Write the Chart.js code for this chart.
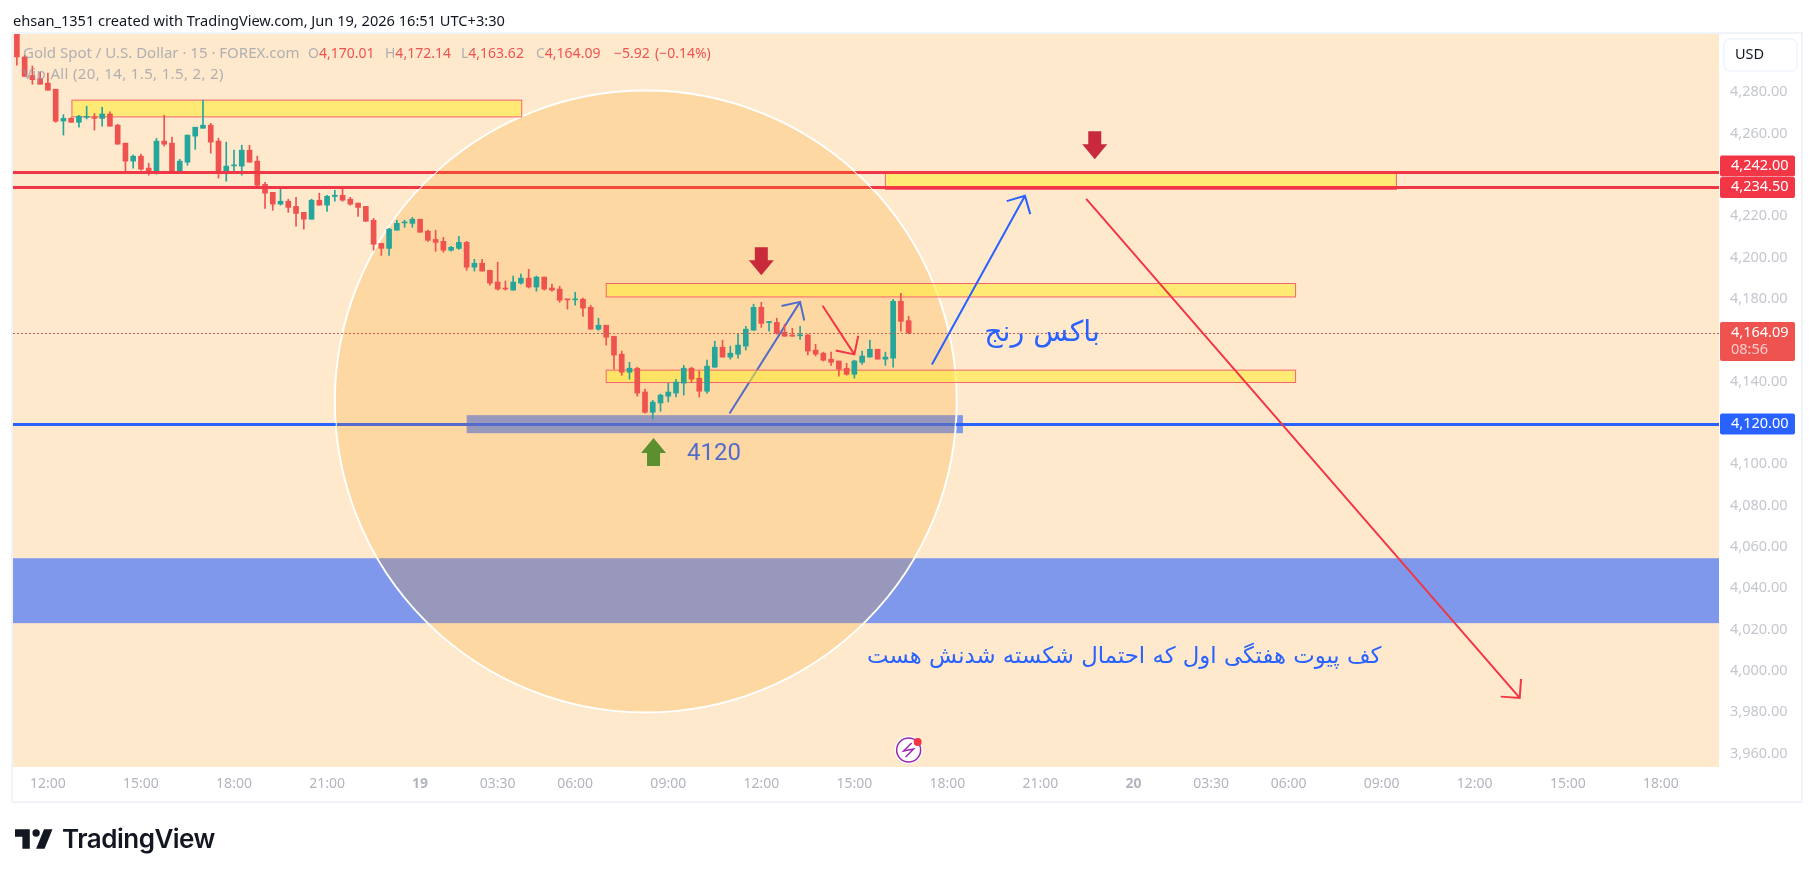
<!DOCTYPE html>
<html>
<head>
<meta charset="utf-8">
<title>XAUUSD 15m</title>
<script src="https://cdn.jsdelivr.net/npm/chart.js@4/dist/chart.umd.min.js"></script>
<style>
    html, body { margin: 0; padding: 0; background: #fff; overflow: hidden; }
    #chart { position: absolute; left: 0; top: 0; }
    #header { position: absolute; left: 13px; top: 10px; font: 14.6px "Noto Sans", sans-serif; color: #131722; white-space: nowrap; }
    #brand { position: absolute; left: 15px; top: 823px; display: flex; align-items: center; color: #131722; font: 600 26px Inter, sans-serif; letter-spacing: -0.5px; }
    #brand svg { margin-right: 9px; }
</style>
</head>
<body>
<canvas id="chart" width="1814" height="877"></canvas>
<div id="header">ehsan_1351 created with TradingView.com, Jun 19, 2026 16:51 UTC+3:30</div>
<div id="brand">
    <svg width="38" height="20" viewBox="0 0 36 18.5"><path fill="#131722" d="M14 18.5H7V7H0V0h14v18.5zM28 18.5h-8L27.5 0h8L28 18.5z"/><circle fill="#131722" cx="20" cy="3.5" r="3.5"/></svg>
    <span>TradingView</span>
</div>
<script>
// candles, one entry per 15 minute bar
const opens = [4311,4297.6,4288.6,4287.1,4284.9,4282,4266.6,4267.9,4266,4268.4,4268.6,4267.9,4270,4264.6,4255.9,4247.2,4249.6,4243.8,4241.9,4256.9,4255.9,4242.3,4246.7,4259.3,4263.1,4264.6,4256.9,4241.4,4244.9,4244.8,4252.5,4247.2,4236,4232.1,4226.4,4227.8,4225.3,4222.4,4219.1,4228.3,4225.9,4230.1,4230.7,4228.8,4226.9,4225.3,4218.6,4207.4,4205,4213.8,4217.3,4217.1,4219.1,4213.3,4209.3,4208.4,4204.1,4205,4207.9,4195.9,4197.8,4194.4,4188.7,4185.8,4184.8,4188.2,4190.6,4186.3,4191.1,4185.8,4185.3,4180.4,4180.1,4180.4,4176.5,4165.9,4167.8,4162.5,4153.8,4145.1,4147,4135.5,4125.7,4130.2,4133.5,4135,4139.8,4147,4142.2,4135.9,4147.5,4157.2,4152.4,4153.8,4157.7,4165.4,4176.5,4169.1,4169.2,4164.4,4163,4162.7,4163,4155.8,4154.3,4151.4,4150.5,4147,4144.1,4149.9,4152.4,4156.2,4151.4,4151.9,4179.4,4170.01];
const highs = [4315,4298.4,4293.2,4290.3,4289.8,4282,4269.7,4268.3,4269.4,4273.8,4270.3,4273.3,4271.1,4265.1,4255.9,4250.2,4250.6,4246.2,4258.2,4269.4,4258.8,4248.1,4259.8,4263.6,4276.7,4265.5,4258.3,4256.4,4252.5,4254.9,4254.9,4249.6,4237,4232.1,4233.6,4228.8,4229.7,4222.4,4228.8,4231.7,4230.7,4233.1,4233.6,4229.7,4226.9,4225.3,4219.5,4207.4,4214.7,4218.6,4218.6,4220,4219.1,4213.8,4213.8,4210.3,4206,4210.8,4208.4,4199.7,4199.7,4194.4,4198.3,4189.2,4191.6,4192.5,4194.9,4191.6,4191.1,4187.7,4186.7,4180.4,4183.8,4180.9,4177.5,4171.2,4167.8,4162.5,4155.3,4149.9,4147.5,4136.9,4131.5,4134.5,4139.8,4141.7,4148.4,4147.5,4145.6,4150.9,4160.1,4160.6,4157.7,4163.5,4167.3,4178,4178.9,4169.7,4171.2,4168.3,4166.3,4167.3,4163.5,4158.6,4154.8,4154.8,4150.5,4149.4,4150.9,4155.3,4160.6,4156.2,4154.8,4180.4,4183.3,4172.14];
const lows = [4293.6,4288.2,4284.4,4284.4,4281.5,4266,4259.8,4266,4263.6,4267.6,4262.2,4264.1,4264.1,4255.4,4241.1,4243.8,4242.8,4240.4,4240.9,4254.5,4241.9,4241.4,4245.2,4252.9,4263.1,4251.1,4239,4237.5,4241.4,4240.4,4246.7,4235,4224.3,4223.4,4225.9,4222.4,4215.7,4214.3,4219.1,4225.9,4222.9,4227.8,4227.8,4225.9,4220.5,4218.1,4204.1,4201.6,4201.6,4213.8,4215.2,4215.2,4212.8,4208.4,4203.6,4203.1,4203.6,4204.5,4194.4,4194,4194,4187.2,4184.8,4184.8,4184.8,4187.7,4185.8,4184.3,4184.8,4184.3,4178.9,4175.6,4177.5,4172.1,4165.9,4165.4,4158.2,4146.5,4143.6,4141.7,4133.5,4125.3,4122.4,4126.2,4130.7,4133.1,4134,4140.3,4133.1,4135,4147.5,4152.4,4151.4,4151.9,4155.8,4165.4,4166.8,4164.9,4163.5,4162.5,4162.5,4161,4153.4,4152.9,4150.5,4148.4,4143.2,4143.6,4142.2,4148.9,4152.4,4151.4,4148.4,4147.5,4164.9,4163.62];
const closes = [4297.6,4288.2,4286.6,4284.4,4281.5,4266.5,4267.9,4266,4268.9,4268.7,4267.9,4270,4264.1,4255.4,4247.2,4249.6,4243.3,4241.9,4256.9,4255.4,4241.9,4247.2,4259.8,4263.6,4264.6,4256.4,4241.9,4244.8,4245.2,4252.5,4246.7,4235.5,4231.7,4226.4,4227.8,4224.8,4221.9,4219.1,4228.3,4225.9,4230.2,4230.7,4228.3,4226.4,4224.8,4218.1,4207,4205,4214.3,4217.1,4217.8,4219.1,4212.8,4208.9,4207.9,4204.1,4205.5,4207.9,4195.9,4197.8,4194,4188.2,4185.3,4185.3,4188.7,4190.6,4186.3,4191.1,4185.3,4184.8,4179.9,4180.1,4180.4,4176.1,4165.9,4167.8,4162,4153.4,4145.1,4147,4135,4125.7,4130.6,4134,4135.5,4140.3,4147,4141.7,4135.9,4148,4157.2,4152.4,4154.3,4158.2,4165.9,4176.5,4168.7,4169.5,4163.9,4162.5,4162.5,4163.1,4155.3,4153.8,4150.9,4149.9,4146.5,4144.1,4150.5,4152.9,4156.2,4151.4,4152.4,4179.4,4169.7,4164.09];

// axes
const barSlots = 220; // candles plus the empty space on the right
const priceMin = 3954.1;
const priceMax = 4308.7;
const priceTicks = [3960,3980,4000,4020,4040,4060,4080,4100,4120,4140,4160,4180,4200,4220,4240,4260,4280];
const timeTickBars = [4,16,28,40,52,62,72,84,96,108,120,132,144,154,164,176,188,200,212];
const timeTickLabels = ['12:00','15:00','18:00','21:00','19','03:30','06:00','09:00','12:00','15:00','18:00','21:00','20','03:30','06:00','09:00','12:00','15:00','18:00'];

// user drawings, as [bar, price]
const resistanceLevels = [4242, 4234.5];
const supportLevel = 4120;
const lastPrice = 4164.09;
const pivotBand = [4055.1, 4023.7];
const supportBox = [58, 122, 4124.3, 4115.6];
const yellowBoxes = [
    [7.1, 65.1, 4276.7, 4268.6],
    [112, 177.9, 4241.8, 4233.5],
    [76, 164.9, 4188, 4181.5],
    [76, 164.9, 4146.1, 4140.1],
];
const circleCentre = [81.1, 4130.9];
const circleEdgeBar = 121.2;
const arrowUnderCircle = [[91.9, 4125.1], [101, 4179.1]];
const blueArrow = [[118, 4148.8], [130, 4230.4]];
const redArrows = [
    [[103.9, 4177.2], [108, 4153.7]],
    [[137.9, 4228.9], [193.8, 3987.5]],
];
const downMarkers = [[96, 4192], [139, 4248.1]];
const upMarker = [82.1, 4113.3];
const supportText = ['4120', 89.9, 4105.6];
const rangeText = ['باکس رنج', 132.2, 4164];
const pivotText = ['کف پیوت هفتگی اول که احتمال شکسته شدنش هست', 142.8, 4007.4];
const lastBar = 115;

const UP = '#26a69a';
const DOWN = '#ef5350';
const RED = '#f23645';
const BLUE = '#2962ff';
const UI_FONT = '"Noto Sans", sans-serif';

function xy(chart, bar, price) {
    return [chart.scales.x.getPixelForValue(bar), chart.scales.y.getPixelForValue(price)];
}

function drawArrow(chart, from, to, color) {
    const ctx = chart.ctx;
    const [x1, y1] = xy(chart, from[0], from[1]);
    const [x2, y2] = xy(chart, to[0], to[1]);
    const angle = Math.atan2(y2 - y1, x2 - x1);
    const head = 19;
    ctx.strokeStyle = color;
    ctx.lineWidth = 2;
    ctx.beginPath();
    ctx.moveTo(x1, y1);
    ctx.lineTo(x2, y2);
    ctx.moveTo(x2 - head * Math.cos(angle - Math.PI / 4), y2 - head * Math.sin(angle - Math.PI / 4));
    ctx.lineTo(x2, y2);
    ctx.lineTo(x2 - head * Math.cos(angle + Math.PI / 4), y2 - head * Math.sin(angle + Math.PI / 4));
    ctx.stroke();
}

// block arrow, dir 1 points down and -1 points up, tip sits on the anchor
function drawMarker(chart, anchor, dir, color) {
    const ctx = chart.ctx;
    const [x, y] = xy(chart, anchor[0], anchor[1]);
    ctx.fillStyle = color;
    ctx.beginPath();
    ctx.moveTo(x, y);
    ctx.lineTo(x + 12.5, y - dir * 15);
    ctx.lineTo(x + 6.5, y - dir * 15);
    ctx.lineTo(x + 6.5, y - dir * 28);
    ctx.lineTo(x - 6.5, y - dir * 28);
    ctx.lineTo(x - 6.5, y - dir * 15);
    ctx.lineTo(x - 12.5, y - dir * 15);
    ctx.closePath();
    ctx.fill();
}

function drawLevels(chart) {
    const ctx = chart.ctx;
    const area = chart.chartArea;
    ctx.lineWidth = 3;
    resistanceLevels.concat(supportLevel).forEach(level => {
        const y = Math.round(chart.scales.y.getPixelForValue(level)) + 0.5;
        ctx.strokeStyle = level === supportLevel ? BLUE : RED;
        ctx.beginPath();
        ctx.moveTo(area.left, y);
        ctx.lineTo(area.right, y);
        ctx.stroke();
    });
}

function circlePath(chart, ctx) {
    const [cx, cy] = xy(chart, circleCentre[0], circleCentre[1]);
    const r = chart.scales.x.getPixelForValue(circleEdgeBar) - cx;
    ctx.arc(cx, cy, r, 0, Math.PI * 2);
}

function drawTextAt(chart, item, font, color, rtl) {
    const ctx = chart.ctx;
    const [x, y] = xy(chart, item[1], item[2]);
    ctx.font = font;
    ctx.fillStyle = color;
    ctx.textAlign = 'center';
    ctx.textBaseline = 'middle';
    ctx.direction = rtl ? 'rtl' : 'ltr';
    ctx.fillText(item[0], x, y);
    ctx.direction = 'ltr';
}

function drawBadge(ctx, y, h, color) {
    ctx.fillStyle = color;
    ctx.beginPath();
    ctx.roundRect(1720, y, 75, h, 2);
    ctx.fill();
}

const pagePlugin = {
    id: 'tvPage',
    beforeDraw(chart) {
        const ctx = chart.ctx;
        const area = chart.chartArea;
        ctx.save();
        ctx.strokeStyle = '#f0f3fa';
        ctx.lineWidth = 2;
        ctx.strokeRect(12, 33, 1790, 769);
        ctx.fillStyle = '#fee9cc';
        ctx.fillRect(area.left, area.top, area.width, area.height);
        ctx.restore();
    },
    beforeDatasetsDraw(chart) {
        const ctx = chart.ctx;
        const area = chart.chartArea;
        ctx.save();
        ctx.beginPath();
        ctx.rect(area.left, area.top, area.width, area.height);
        ctx.clip();

        // weekly pivot band and the box on 4120
        const [bandTop, bandBottom] = pivotBand.map(p => chart.scales.y.getPixelForValue(p));
        ctx.fillStyle = 'rgba(41,98,255,0.6)';
        ctx.fillRect(area.left, bandTop, area.width, bandBottom - bandTop);
        const [bx1, by1] = xy(chart, supportBox[0], supportBox[2]);
        const [bx2, by2] = xy(chart, supportBox[1], supportBox[3]);
        ctx.fillRect(bx1, by1, bx2 - bx1, by2 - by1);

        drawLevels(chart);
        drawArrow(chart, arrowUnderCircle[0], arrowUnderCircle[1], BLUE);
        drawTextAt(chart, supportText, '24px Roboto, sans-serif', BLUE, false);

        ctx.beginPath();
        circlePath(chart, ctx);
        ctx.fillStyle = 'rgba(255,152,0,0.2)';
        ctx.fill();
        ctx.strokeStyle = '#ffffff';
        ctx.lineWidth = 2;
        ctx.stroke();

        yellowBoxes.forEach(box => {
            const [x1, y1] = xy(chart, box[0], box[2]);
            const [x2, y2] = xy(chart, box[1], box[3]);
            ctx.fillStyle = 'rgba(255,235,59,0.6)';
            ctx.fillRect(x1, y1, x2 - x1, y2 - y1);
            ctx.strokeStyle = '#f7646e';
            ctx.lineWidth = 1;
            ctx.strokeRect(x1, y1, x2 - x1, y2 - y1);
        });
        ctx.restore();
    },
    afterDatasetsDraw(chart) {
        const ctx = chart.ctx;
        const area = chart.chartArea;
        ctx.save();
        ctx.beginPath();
        ctx.rect(area.left, area.top, area.width, area.height);
        ctx.clip();

        // levels go over the candles, only outside the circle
        ctx.save();
        ctx.beginPath();
        ctx.rect(area.left, area.top, area.width, area.height);
        circlePath(chart, ctx);
        ctx.clip('evenodd');
        drawLevels(chart);
        ctx.restore();

        // last price line
        const lastY = Math.round(chart.scales.y.getPixelForValue(lastPrice)) + 0.5;
        ctx.strokeStyle = '#c0605c';
        ctx.lineWidth = 1;
        ctx.setLineDash([2, 2]);
        ctx.beginPath();
        ctx.moveTo(Math.round(area.left), lastY);
        ctx.lineTo(area.right, lastY);
        ctx.stroke();
        ctx.setLineDash([]);

        drawArrow(chart, blueArrow[0], blueArrow[1], BLUE);
        redArrows.forEach(a => drawArrow(chart, a[0], a[1], RED));
        downMarkers.forEach(m => drawMarker(chart, m, 1, '#c82a3c'));
        drawMarker(chart, upMarker, -1, '#5c8f30');

        drawTextAt(chart, rangeText, '28.5px "DejaVu Sans", sans-serif', BLUE, true);
        drawTextAt(chart, pivotText, '22.8px "DejaVu Sans", sans-serif', BLUE, true);

        // earnings style icon under the last bar
        const iconX = chart.scales.x.getPixelForValue(lastBar);
        const iconY = area.bottom - 17;
        ctx.beginPath();
        ctx.arc(iconX, iconY, 14, 0, Math.PI * 2);
        ctx.fillStyle = '#ffffff';
        ctx.fill();
        ctx.beginPath();
        ctx.arc(iconX, iconY, 12, 0, Math.PI * 2);
        ctx.strokeStyle = '#9c27b0';
        ctx.lineWidth = 1.5;
        ctx.stroke();
        ctx.beginPath();
        ctx.moveTo(iconX + 3, iconY - 7);
        ctx.lineTo(iconX - 5, iconY + 1);
        ctx.lineTo(iconX + 5, iconY - 1);
        ctx.lineTo(iconX - 3, iconY + 7);
        ctx.stroke();
        ctx.beginPath();
        ctx.arc(iconX + 9, iconY - 8, 4, 0, Math.PI * 2);
        ctx.fillStyle = RED;
        ctx.fill();

        // legend over the pane
        ctx.textAlign = 'left';
        ctx.textBaseline = 'middle';
        const grey = 'rgba(150,155,170,0.75)';
        ctx.fillStyle = grey;
        ctx.font = '15px ' + UI_FONT;
        ctx.fillText('Gold Spot / U.S. Dollar · 15 · FOREX.com', 23, 54);
        ctx.letterSpacing = '0.35px';
        ctx.fillText('Vip All (20, 14, 1.5, 1.5, 2, 2)', 23, 75);
        ctx.letterSpacing = '0px';
        ctx.font = '14px ' + UI_FONT;
        [['O', '4,170.01', 308], ['H', '4,172.14', 385], ['L', '4,163.62', 461], ['C', '4,164.09', 536]].forEach(p => {
            ctx.fillStyle = grey;
            ctx.fillText(p[0], p[2], 54);
            ctx.fillStyle = DOWN;
            ctx.fillText(p[1], p[2] + ctx.measureText(p[0]).width, 54);
        });
        ctx.fillStyle = DOWN;
        ctx.fillText('−5.92', 614, 54);
        ctx.fillText('(−0.14%)', 655, 54);
        ctx.restore();
    },
    afterDraw(chart) {
        const ctx = chart.ctx;
        const scale = chart.scales.y;
        ctx.save();
        ctx.font = '14.5px ' + UI_FONT;
        ctx.textAlign = 'left';
        ctx.textBaseline = 'middle';

        // currency button
        ctx.fillStyle = '#ffffff';
        ctx.strokeStyle = '#f0f3fa';
        ctx.lineWidth = 1.5;
        ctx.beginPath();
        ctx.roundRect(1724, 39, 73, 32, 6);
        ctx.fill();
        ctx.stroke();
        ctx.fillStyle = '#131722';
        ctx.fillText('USD', 1735, 55);

        // price badges, the 4,242 one is pushed up so they do not overlap
        const fmt = v => v.toLocaleString('en-US', { minimumFractionDigits: 2, maximumFractionDigits: 2 });
        const y1 = scale.getPixelForValue(resistanceLevels[0]);
        const y2 = scale.getPixelForValue(resistanceLevels[1]);
        const y3 = scale.getPixelForValue(lastPrice);
        const y4 = scale.getPixelForValue(supportLevel);
        drawBadge(ctx, y1 - 16.5, 21, RED);
        drawBadge(ctx, y2 - 10.5, 21, RED);
        drawBadge(ctx, y3 - 11, 39, DOWN);
        drawBadge(ctx, y4 - 10.5, 21, BLUE);
        ctx.fillStyle = '#ffffff';
        ctx.fillText(fmt(resistanceLevels[0]), 1731, y1 - 6.5);
        ctx.fillText(fmt(resistanceLevels[1]), 1731, y2 - 0.5);
        ctx.fillText(fmt(lastPrice), 1731, y3 - 0.5);
        ctx.fillText(fmt(supportLevel), 1731, y4 - 0.5);
        ctx.fillStyle = 'rgba(255,255,255,0.7)';
        ctx.fillText('08:56', 1731, y3 + 17);
        ctx.restore();
    },
};

const labels = Array.from({ length: barSlots }, (_, i) => i);

new Chart(document.getElementById('chart').getContext('2d'), {
    type: 'bar',
    data: {
        labels: labels,
        datasets: [
            {
                label: 'wicks',
                data: lows.map((low, i) => [low, highs[i]]),
                backgroundColor: closes.map((c, i) => (c >= opens[i] ? UP : DOWN)),
                barThickness: 1,
                grouped: false,
                order: 2,
            },
            {
                label: 'bodies',
                data: opens.map((o, i) => [o, closes[i]]),
                backgroundColor: closes.map((c, i) => (c >= opens[i] ? UP : DOWN)),
                barThickness: 5,
                minBarLength: 1,
                grouped: false,
                order: 1,
            },
        ],
    },
    options: {
        responsive: false,
        animation: false,
        devicePixelRatio: 1,
        events: [],
        layout: { padding: { left: 13, top: 34, right: 14, bottom: 76 } },
        plugins: {
            legend: { display: false },
            title: { display: false },
            tooltip: { enabled: false },
        },
        scales: {
            x: {
                type: 'category',
                offset: true,
                grid: { display: false, drawTicks: false },
                border: { display: false },
                afterFit(scale) { scale.height = 34; },
                ticks: {
                    autoSkip: false,
                    maxRotation: 0,
                    padding: 9,
                    color: '#b2b5be',
                    font: ctx => ({
                        family: UI_FONT,
                        size: 14,
                        weight: ['19', '20'].includes(timeTickLabels[timeTickBars.indexOf(ctx.index)]) ? 'bold' : 'normal',
                    }),
                    callback: (value, index) => {
                        const pos = timeTickBars.indexOf(index);
                        return pos >= 0 ? timeTickLabels[pos] : '';
                    },
                },
            },
            y: {
                type: 'linear',
                position: 'right',
                min: priceMin,
                max: priceMax,
                grid: { display: false, drawTicks: false },
                border: { display: false },
                afterFit(scale) { scale.width = 81; },
                afterBuildTicks(scale) { scale.ticks = priceTicks.map(value => ({ value })); },
                ticks: {
                    padding: 11,
                    labelOffset: -1.2,
                    color: '#c4c7ce',
                    font: { family: UI_FONT, size: 14.5 },
                    callback: v => v.toLocaleString('en-US', { minimumFractionDigits: 2, maximumFractionDigits: 2 }),
                },
            },
        },
    },
    plugins: [pagePlugin],
});
</script>
</body>
</html>
